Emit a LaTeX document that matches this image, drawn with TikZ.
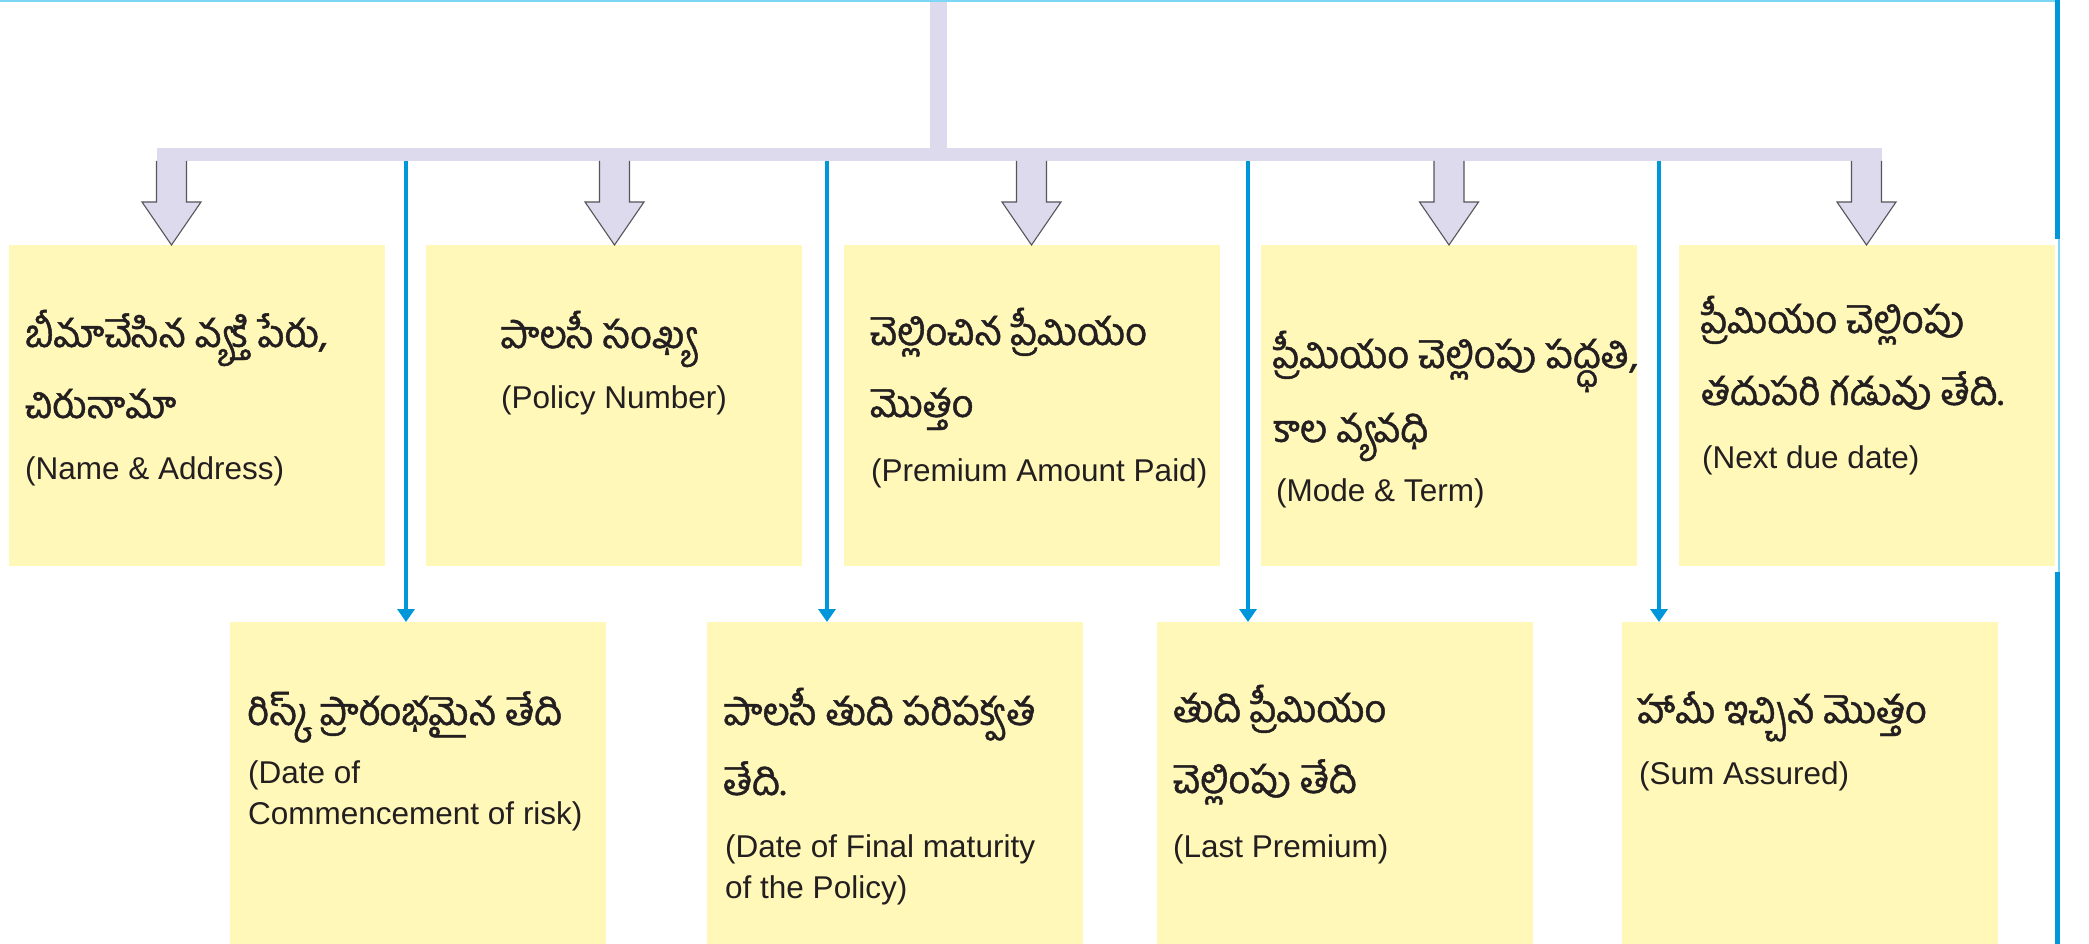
\documentclass[tikz,border=0pt]{standalone}
\usepackage{fontspec}
\setmainfont{Liberation Sans}
\newfontfamily\telugu[Script=Telugu, FakeBold=1.2]{Hind Guntur}
\usetikzlibrary{arrows.meta}

\definecolor{boxfill}{RGB}{255,248,184}
\definecolor{lav}{RGB}{220,218,236}
\definecolor{lavedge}{RGB}{85,85,90}
\definecolor{cyanblue}{RGB}{0,150,218}
\definecolor{lightcyan}{RGB}{125,214,246}
\definecolor{ink}{RGB}{35,31,32}

\tikzset{
  ybox/.style={fill=boxfill, draw=none, minimum width=376pt, inner sep=0pt, outer sep=0pt},
  upbox/.style={ybox, minimum height=321pt},
  lowbox/.style={ybox, minimum height=322pt},
  te/.style={anchor=base west, inner sep=0pt, text=ink, font=\telugu\fontsize{38}{44}\selectfont},
  en/.style={anchor=base west, inner sep=0pt, text=ink, font=\fontsize{31.5}{41}\selectfont},
  barpart/.style={fill=lav, draw=none, inner sep=0pt, outer sep=0pt},
  bluearrow/.style={draw=cyanblue, line width=4pt, -{Triangle[width=17pt,length=13pt]}},
  blockfill/.style={fill=lav, draw=none},
  blockedge/.style={draw=lavedge, line width=1.1pt, line join=miter},
}

% downward block arrow from the bar (#1 = x of the arrow, #2 = name of target box)
\newcommand{\blockarrow}[2]{%
  \path[blockfill] (#1-15,161) -- (#1-15,202) -- (#1-29.5,202) -- (#2.north -| #1,0) -- (#1+29.5,202) -- (#1+15,202) -- (#1+15,161) -- cycle;
  \draw[blockedge] (#1-15,161) -- (#1-15,202) -- (#1-29.5,202) -- (#2.north -| #1,0) -- (#1+29.5,202) -- (#1+15,202) -- (#1+15,161);
}

\begin{document}
\begin{tikzpicture}[x=1pt, y=-1pt]
\useasboundingbox (0,0) rectangle (2089,944);

% page rules
\draw[lightcyan, line width=2pt] (0,1) -- (2059,1);
\draw[lightcyan, line width=1.5pt] (2059,0) -- (2059,944);
\draw[cyanblue, line width=5pt] (2057,0) -- (2057,239);
\draw[cyanblue, line width=5pt] (2057,572) -- (2057,944);

% stem and distribution bar
\node[barpart, minimum width=17pt, minimum height=146pt] (stem) at (938.5,75) {};
\node[barpart, minimum width=1725pt, minimum height=13pt] (bar) at (1019.5,154.5) {};

% upper boxes
\node[upbox] (b1) at (197,405.5) {};
\node[upbox] (b2) at (614,405.5) {};
\node[upbox] (b3) at (1031.5,405.5) {};
\node[upbox] (b4) at (1449,405.5) {};
\node[upbox] (b5) at (1866.5,405.5) {};

% lower boxes
\node[lowbox] (l1) at (417.5,783) {};
\node[lowbox] (l2) at (895,783) {};
\node[lowbox] (l3) at (1344.5,783) {};
\node[lowbox] (l4) at (1809.5,783) {};

% block arrows to the upper boxes
\blockarrow{171.5}{b1}
\blockarrow{614.5}{b2}
\blockarrow{1031.5}{b3}
\blockarrow{1449}{b4}
\blockarrow{1866.5}{b5}

% thin arrows to the lower boxes
\coordinate (s1) at (406,161);
\coordinate (s2) at (827,161);
\coordinate (s3) at (1248,161);
\coordinate (s4) at (1659,161);
\draw[bluearrow] (s1) -- (s1 |- l1.north);
\draw[bluearrow] (s2) -- (s2 |- l2.north);
\draw[bluearrow] (s3) -- (s3 |- l3.north);
\draw[bluearrow] (s4) -- (s4 |- l4.north);

% texts of the upper boxes
\node[te] (b1t1) at (25,347) {బీమాచేసిన వ్యక్తి పేరు,};
\node[te] (b1t2) at (25,418) {చిరునామా};
\node[en] (b1e1) at (25,479) {(Name \& Address)};

\node[te] (b2t1) at (500,348) {పాలసీ సంఖ్య};
\node[en] (b2e1) at (501,408) {(Policy Number)};

\node[te] (b3t1) at (870,345) {చెల్లించిన ప్రీమియం};
\node[te] (b3t2) at (870,417) {మొత్తం};
\node[en] (b3e1) at (871,481) {(Premium Amount Paid)};

\node[te] (b4t1) at (1273,368) {ప్రీమియం చెల్లింపు పద్ధతి,};
\node[te] (b4t2) at (1273,442) {కాల వ్యవధి};
\node[en] (b4e1) at (1276,501) {(Mode \& Term)};

\node[te] (b5t1) at (1701,333) {ప్రీమియం చెల్లింపు};
\node[te] (b5t2) at (1701,405) {తదుపరి గడువు తేది.};
\node[en] (b5e1) at (1702,468) {(Next due date)};

% texts of the lower boxes
\node[te] (l1t1) at (247,725) {రిస్క్ ప్రారంభమైన తేది};
\node[en] (l1e1) at (248,783) {(Date of};
\node[en] (l1e2) at (248,824) {Commencement of risk)};

\node[te] (l2t1) at (723,725) {పాలసీ తుది పరిపక్వత};
\node[te] (l2t2) at (723,795) {తేది.};
\node[en] (l2e1) at (725,857) {(Date of Final maturity};
\node[en] (l2e2) at (725,898) {of the Policy)};

\node[te] (l3t1) at (1173,722) {తుది ప్రీమియం};
\node[te] (l3t2) at (1173,793) {చెల్లింపు తేది};
\node[en] (l3e1) at (1173,857) {(Last Premium)};

\node[te] (l4t1) at (1637,723) {హామీ ఇచ్చిన మొత్తం};
\node[en] (l4e1) at (1639,784) {(Sum Assured)};
\end{tikzpicture}
\end{document}
